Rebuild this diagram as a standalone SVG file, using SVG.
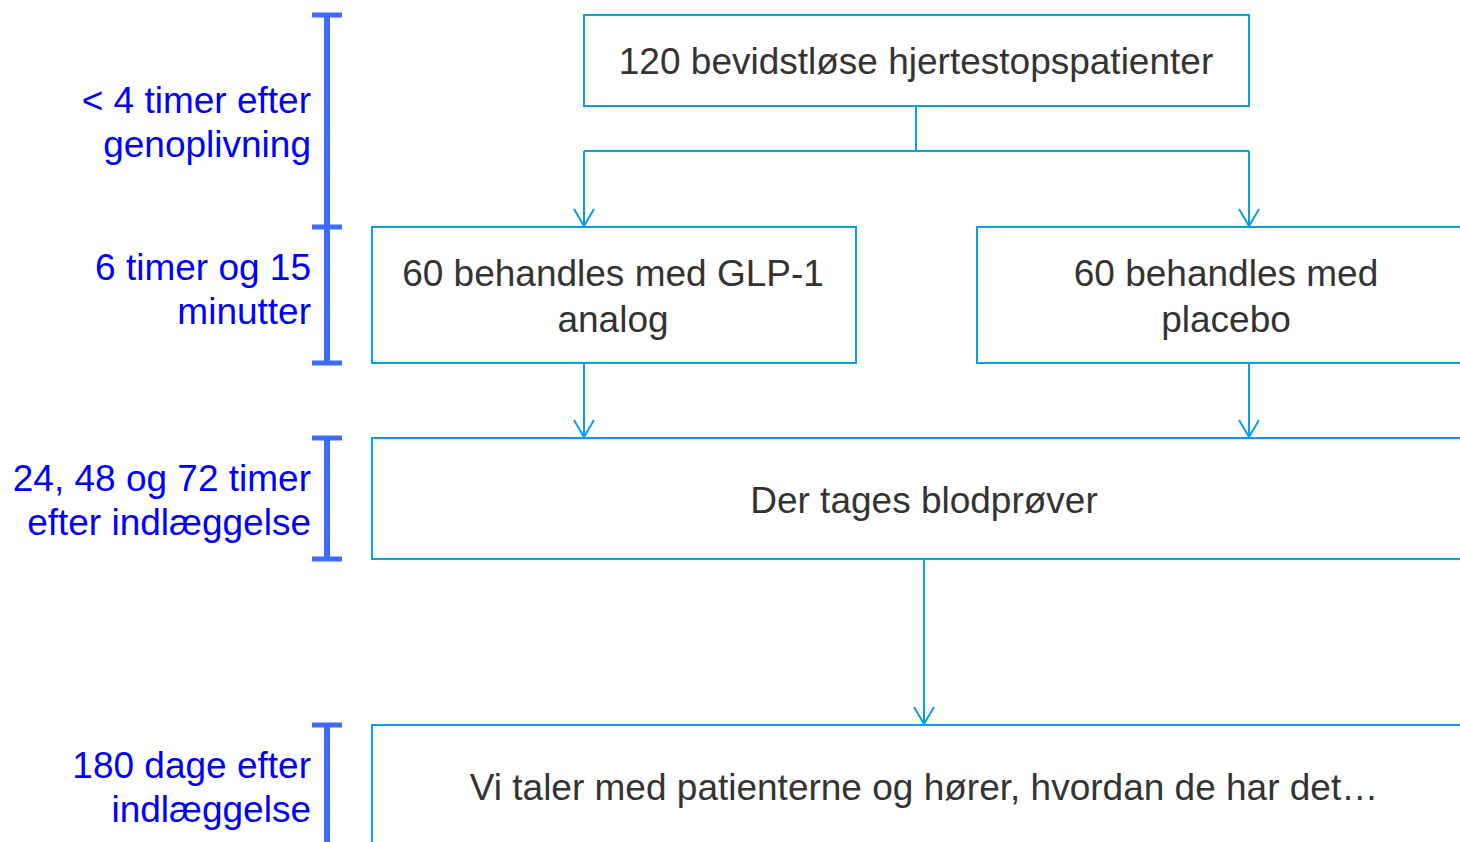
<svg xmlns="http://www.w3.org/2000/svg" width="1460" height="842" viewBox="0 0 1460 842">
<style>
.box{fill:#fff;stroke:#0A9EE6;stroke-width:2}
.bt{font-family:"Liberation Sans",Arial,sans-serif;font-size:37px;fill:#333333;text-anchor:middle}
.lt{font-family:"Liberation Sans",Arial,sans-serif;font-size:37px;fill:#0000FF;text-anchor:end}
.con{fill:none;stroke:#0A9EE6;stroke-width:2}
.br{stroke:#3D6BFF;fill:none}
</style>
<defs>
<marker id="arr" viewBox="-19 -12 21 24" refX="0" refY="0" markerWidth="21" markerHeight="24" markerUnits="userSpaceOnUse" orient="auto">
<path d="M-17,-10 L0,0 L-17,10" fill="none" stroke="#0A9EE6" stroke-width="2"/>
</marker>
</defs>
<rect width="1460" height="842" fill="#fff"/>
<g id="timeline">
<g id="br1" class="br"><line x1="327" y1="15" x2="327" y2="227" stroke-width="6"/><line x1="312" y1="15" x2="342" y2="15" stroke-width="5"/><line x1="312" y1="227" x2="342" y2="227" stroke-width="5"/></g>
<g id="br2" class="br"><line x1="327" y1="227" x2="327" y2="363" stroke-width="6"/><line x1="312" y1="363" x2="342" y2="363" stroke-width="5"/></g>
<g id="br3" class="br"><line x1="327" y1="438" x2="327" y2="559" stroke-width="6"/><line x1="312" y1="438" x2="342" y2="438" stroke-width="5"/><line x1="312" y1="559" x2="342" y2="559" stroke-width="5"/></g>
<g id="br4" class="br"><line x1="327" y1="725" x2="327" y2="842" stroke-width="6"/><line x1="312" y1="725" x2="342" y2="725" stroke-width="5"/></g>
<g id="lab1"><text class="lt" x="311" y="113">&lt; 4 timer efter</text><text class="lt" x="311" y="157">genoplivning</text></g>
<g id="lab2"><text class="lt" x="311" y="280">6 timer og 15</text><text class="lt" x="311" y="324">minutter</text></g>
<g id="lab3"><text class="lt" x="311" y="491">24, 48 og 72 timer</text><text class="lt" x="311" y="535">efter indlæggelse</text></g>
<g id="lab4"><text class="lt" x="311" y="778">180 dage efter</text><text class="lt" x="311" y="822">indlæggelse</text></g>
</g>
<g id="connectors">
<path class="con" d="M916,106 V151 M584,151 H1249"/>
<path class="con" d="M584,151 V226" marker-end="url(#arr)"/>
<path class="con" d="M1249,151 V226" marker-end="url(#arr)"/>
<path class="con" d="M584,363 V437" marker-end="url(#arr)"/>
<path class="con" d="M1249,363 V437" marker-end="url(#arr)"/>
<path class="con" d="M924,559 V724" marker-end="url(#arr)"/>
</g>
<g id="n1"><rect class="box" x="584" y="15" width="665" height="91"/><text class="bt" x="916" y="74">120 bevidstløse hjertestopspatienter</text></g>
<g id="n2"><rect class="box" x="372" y="227" width="484" height="136"/><text class="bt" x="613" y="286">60 behandles med GLP-1</text><text class="bt" x="613" y="332">analog</text></g>
<g id="n3"><rect class="box" x="977" y="227" width="500" height="136"/><text class="bt" x="1226" y="286">60 behandles med</text><text class="bt" x="1226" y="332">placebo</text></g>
<g id="n4"><rect class="box" x="372" y="438" width="1105" height="121"/><text class="bt" x="924" y="513">Der tages blodprøver</text></g>
<g id="n5"><rect class="box" x="372" y="725" width="1105" height="140"/><text class="bt" x="924" y="800">Vi taler med patienterne og hører, hvordan de har det…</text></g>
</svg>
